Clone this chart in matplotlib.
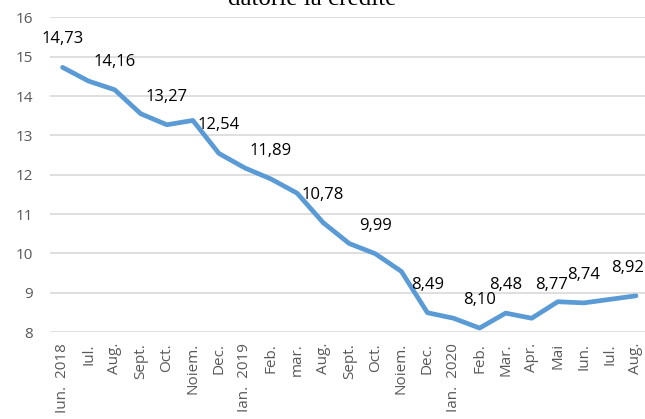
import numpy as np
import matplotlib
matplotlib.use("Agg")
import matplotlib.pyplot as plt

plt.rcParams['font.family'] = ['Open Sans', 'DejaVu Sans']

# luni (axa X)
months = ['Iun.  2018', 'Iul.', 'Aug.', 'Sept.', 'Oct.', 'Noiem.', 'Dec.',
          'Ian.  2019', 'Feb.', 'mar.', 'Aug.', 'Sept.', 'Oct.', 'Noiem.',
          'Dec.', 'Ian.  2020', 'Feb.', 'Mar.', 'Apr.', 'Mai', 'Iun.', 'Iul.', 'Aug.']
rates = [14.73, 14.38, 14.16, 13.55, 13.27, 13.38, 12.54,
         12.17, 11.89, 11.53, 10.78, 10.25, 9.99, 9.54,
         8.49, 8.35, 8.10, 8.48, 8.35, 8.77, 8.74, 8.83, 8.92]
# punctele care au eticheta
labeled = [0, 2, 4, 6, 8, 10, 12, 14, 16, 17, 19, 20, 22]

fig = plt.figure(figsize=(6.45, 4.19), dpi=100)
ax = fig.add_axes([49.5/645, 1-332/419, (649-49.5)/645, (332-17.4)/419])

x = np.arange(len(months))
ax.plot(x, rates, color='#5B9BD5', lw=3.4, solid_joinstyle='round',
        solid_capstyle='round', zorder=3)

for i in labeled:
    dx, dy = 0, 28
    if i == 19:
        dx, dy = -6, 17
    if i == 22:
        dx = -8
    ax.annotate(f"{rates[i]:.2f}".replace('.', ','), (x[i], rates[i]),
                xytext=(dx, dy), textcoords='offset pixels',
                ha='center', va='center', fontsize=12, color='black')

ax.set_xlim(-0.5, len(months) - 0.5)
ax.set_ylim(8, 16)
ax.set_yticks(range(8, 17))
ax.set_xticks(x)
ax.set_xticklabels(months, rotation=90, va='top', ha='center')
ax.tick_params(axis='both', length=0, colors='#595959', labelsize=11)
ax.tick_params(axis='x', pad=8)
ax.tick_params(axis='y', pad=12)
ax.grid(axis='y', color='#D9D9D9', lw=1.2)
ax.set_axisbelow(True)
for s in ax.spines.values():
    s.set_visible(False)

# titlul, taiat sus in original
fig.text(312/645, 1-5/419, 'datorie la credite', family='Liberation Serif',
         fontsize=18, ha='center', va='baseline', color='black')

fig.savefig('out.png', dpi=100)
